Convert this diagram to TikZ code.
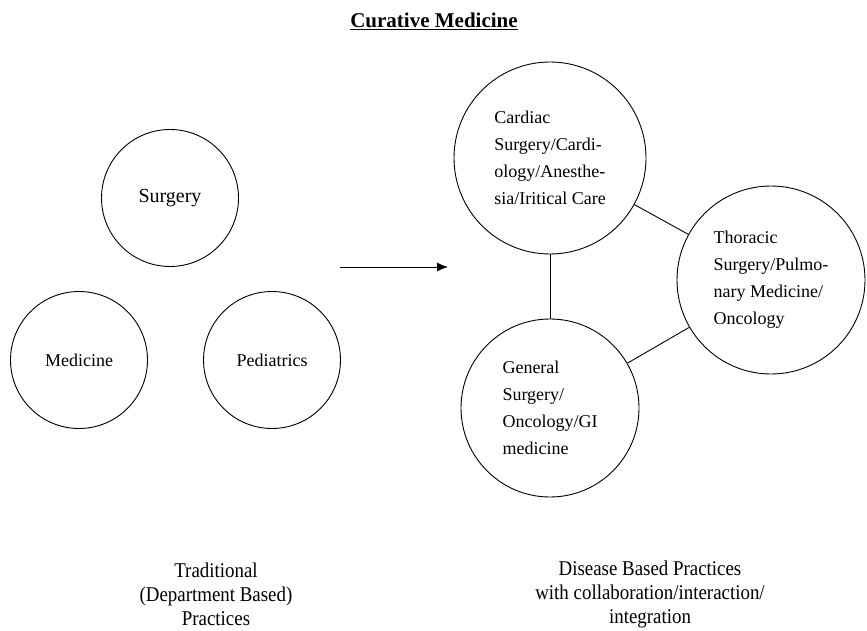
\documentclass[tikz,border=0pt]{standalone}
\usepackage{fontspec}
\setmainfont{Liberation Serif}
\newfontfamily\narrowserif[FakeStretch=0.9]{Liberation Serif}
\usetikzlibrary{arrows.meta}

\begin{document}
\begin{tikzpicture}[x=1pt,y=-1pt,
	every node/.style={font=\fontsize{18}{27}\selectfont},
	dept/.style={draw,circle,line width=0.9pt,inner sep=0pt,minimum size=137pt},
	practice/.style={draw,circle,line width=0.9pt,inner sep=0pt,align=left},
	caption/.style={align=center,font=\narrowserif\fontsize{21}{24}\selectfont}]
	\useasboundingbox (0,0) rectangle (867,631);

	\node[anchor=base] (title) at (434,28) {\fontsize{21}{24}\selectfont\underline{\textbf{Curative Medicine}}};

	% tradycyjne oddzialy
	\node[dept,font=\fontsize{20}{24}\selectfont] (surgery) at (170,198) {Surgery};
	\node[dept] (medicine) at (79,360) {Medicine};
	\node[dept] (pediatrics) at (272,360) {Pediatrics};

	\coordinate (from) at (340,267);
	\coordinate (to) at (448,267);
	\draw[line width=0.9pt,-{Latex[length=11pt,width=9pt]}] (from) -- (to);

	% praktyki wg chorob
	\node[practice,minimum size=192pt] (cardiac) at (550,158) {Cardiac\\Surgery/Cardi-\\ology/Anesthe-\\sia/Iritical Care};
	\node[practice,minimum size=188pt] (thoracic) at (771,280) {Thoracic\\Surgery/Pulmo-\\nary Medicine/\\Oncology};
	\node[practice,minimum size=178pt] (general) at (550,408) {General\\Surgery/\\Oncology/GI\\medicine};

	\draw[line width=0.9pt] (cardiac) -- (general);
	\draw[line width=0.9pt] (cardiac) -- (thoracic);
	\draw[line width=0.9pt] (general) -- (thoracic);

	% podpisy
	\node[caption] (old) at (216,594) {Traditional\\(Department Based)\\Practices};
	\node[caption] (new) at (650,594) {Disease Based Practices\\with collaboration/interaction/\\integration};
\end{tikzpicture}
\end{document}
